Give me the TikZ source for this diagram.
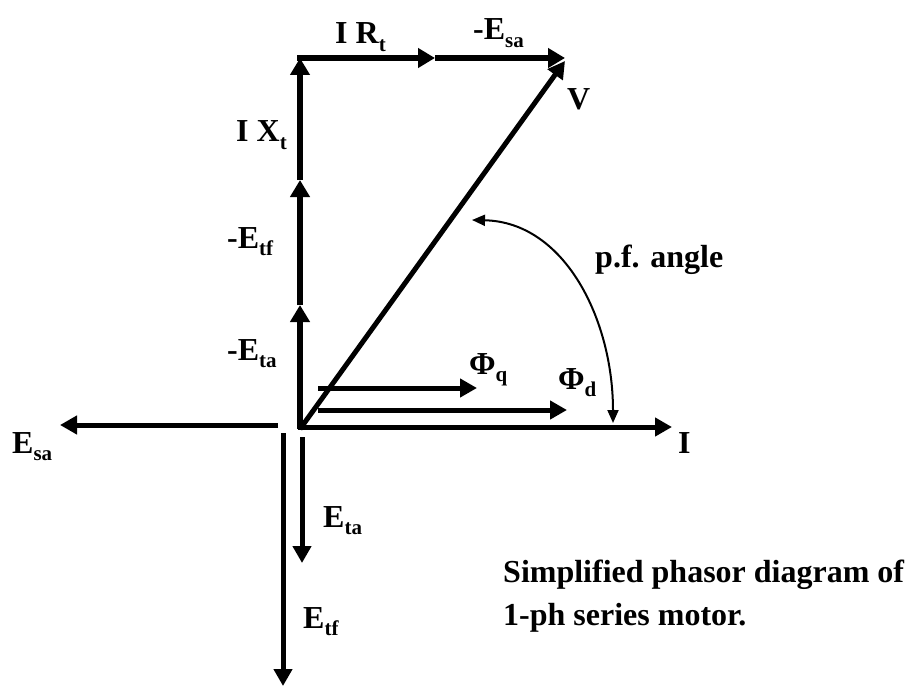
\documentclass[tikz,border=0pt]{standalone}
\usepackage{fontspec}
\setmainfont{Liberation Serif}
\usetikzlibrary{arrows.meta}
\newcommand{\mysub}[1]{\raisebox{-0.22em}{\fontsize{21}{21}\selectfont #1}}
\tikzset{
  lbl/.style={anchor=base west, inner sep=0pt, font=\fontsize{32}{32}\selectfont\bfseries},
  captxt/.style={anchor=base west, inner sep=0pt, font=\fontsize{32}{32}\selectfont\bfseries},
  thick6/.style={line width=6pt, -{Triangle[length=17pt,width=19pt]}},
  thick5/.style={line width=5pt, -{Triangle[length=17pt,width=18pt]}},
  arcline/.style={line width=2pt, {Triangle[length=13pt,width=11pt]}-{Triangle[length=13pt,width=11pt]}},
}
\begin{document}
\begin{tikzpicture}[x=1pt,y=-1pt]
\useasboundingbox (0,0) rectangle (917,687);
% key points
\coordinate (O) at (300,429);
\coordinate (A1) at (300,305);
\coordinate (A2) at (300,180);
\coordinate (T) at (300,58);
\coordinate (R1) at (435,58);
\coordinate (R2) at (565,58);
\coordinate (Vt) at (565,61);
\coordinate (Is) at (298,427);
\coordinate (Ie) at (672,427);
\coordinate (Ds) at (318,410);
\coordinate (De) at (567,410);
\coordinate (Qs) at (318,388);
\coordinate (Qe) at (477,388);
\coordinate (Ss) at (278,425);
\coordinate (Se) at (60,425);
\coordinate (Tas) at (302,437);
\coordinate (Tae) at (302,563);
\coordinate (Tfs) at (283,433);
\coordinate (Tfe) at (283,686);
\coordinate (P1) at (472,220);
\coordinate (P2) at (613,423);
% vertical chain
\draw[thick6] (O) -- (A1);
\draw[thick6] (A1) -- (A2);
\draw[thick6] (A2) -- (T);
% top chain
\draw[thick6] ([xshift=-3pt]T) -- (R1);
\draw[thick6] (R1) -- (R2);
% V
\draw[thick5] (O) -- (Vt);
% I
\draw[thick5] (Is) -- (Ie);
% fluxes
\draw[thick5] (Ds) -- (De);
\draw[thick5] (Qs) -- (Qe);
% E_sa
\draw[thick5] (Ss) -- (Se);
% E_ta, E_tf
\draw[thick5] (Tas) -- (Tae);
\draw[thick5] (Tfs) -- (Tfe);
% pf angle arc
\draw[arcline] (P1) .. controls (565,222) and (613,320) .. (P2);
% labels
\node[lbl] (lIR) at (335,44) {I R\mysub{t}};
\node[lbl] (lmEsa) at (473,40) {-E\mysub{sa}};
\node[lbl] (lV) at (567,110) {V};
\node[lbl] (lIX) at (236,142) {I X\mysub{t}};
\node[lbl] (lmEtf) at (227,248) {-E\mysub{tf}};
\node[lbl] (lmEta) at (227,360) {-E\mysub{ta}};
\node[lbl] (lPq) at (469,374) {Φ\mysub{q}};
\node[lbl] (lPd) at (558,389) {Φ\mysub{d}};
\node[lbl] (lI) at (678,453) {I};
\node[lbl] (lEsa) at (12,453) {E\mysub{sa}};
\node[lbl] (lEta) at (323,527) {E\mysub{ta}};
\node[lbl] (lEtf) at (303,628) {E\mysub{tf}};
\node[lbl] (lpf) at (595,267) {p.f. angle};
\node[captxt] (c1) at (503,582) {Simplified phasor diagram of};
\node[captxt] (c2) at (503,625) {1-ph series motor.};
\end{tikzpicture}
\end{document}
